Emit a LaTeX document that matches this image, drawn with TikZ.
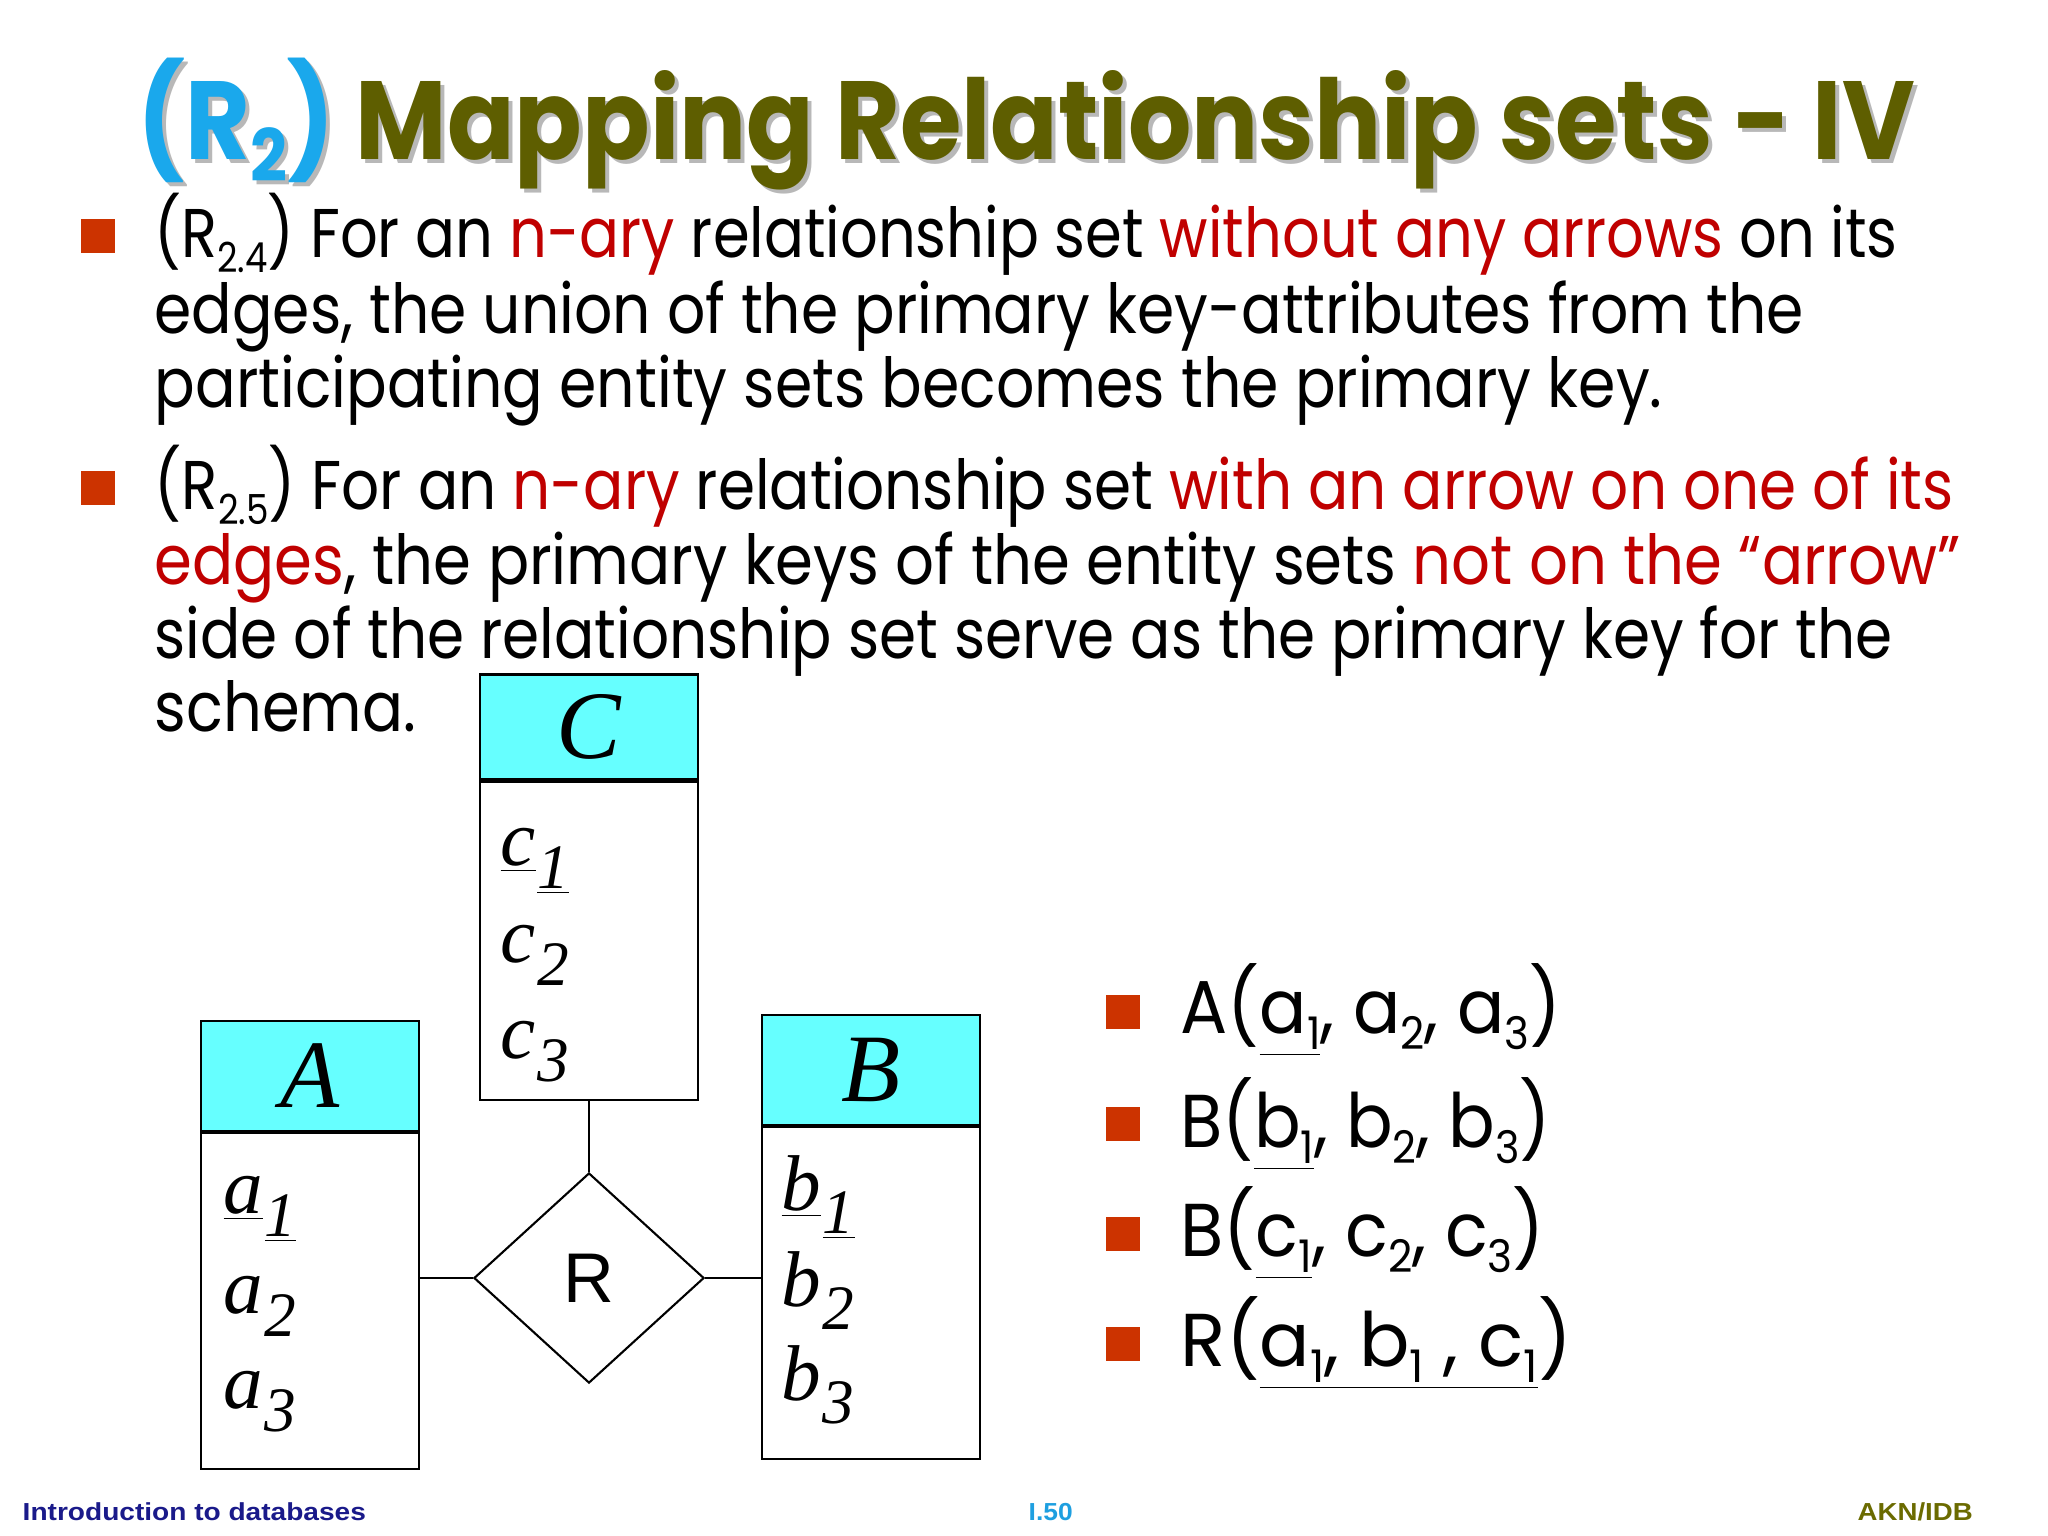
\documentclass[tikz,border=0pt]{standalone}
\usepackage{fontspec}
\usepackage{graphicx}
\setmainfont{Poppins}
\newfontfamily\serfont{Liberation Serif}
\newfontfamily\arialfont{Liberation Sans}
\usetikzlibrary{shapes.geometric}

\definecolor{keyred}{HTML}{C00000}
\definecolor{bulletred}{HTML}{CC3300}
\definecolor{titleolive}{HTML}{5E5E00}
\definecolor{titleblue}{HTML}{1AA8EC}
\definecolor{shadowgray}{HTML}{B8B8B8}
\definecolor{headcyan}{HTML}{66FFFF}
\definecolor{footnavy}{HTML}{1A1A8A}
\definecolor{footcyan}{HTML}{1E9FE0}
\definecolor{footolive}{HTML}{6B6B00}

\newcommand\fitw[2]{\resizebox{#1}{\height}{#2}}
\newcommand\lsub[1]{\raisebox{-0.22em}{\scalebox{0.6}{#1}}}
\newcommand\asub[1]{\hspace{0.02em}\raisebox{-0.3em}{\scalebox{0.8}{#1}}}
\newcommand\titleline[2]{{\color{#1}(R\raisebox{-0.2em}{\scalebox{0.65}{2}})} {\color{#2}Mapping Relationship sets - IV}}

\begin{document}
\begin{tikzpicture}[x=0.01cm,y=-0.01cm,
  titletext/.style={anchor=base west, inner sep=0, font=\bfseries\fontsize{31.6}{32}\selectfont},
  bodytext/.style={anchor=base west, inner sep=0, font=\fontsize{19.6}{21.3}\selectfont},
  listtext/.style={anchor=base west, inner sep=0, font=\fontsize{21.3}{23}\selectfont},
  bullet/.style={fill=bulletred, minimum size=0.34cm, inner sep=0},
  headbox/.style={draw, line width=0.6pt, fill=headcyan, minimum width=2.18cm, inner sep=0, font=\serfont\itshape\fontsize{27.5}{28}\selectfont},
  bodybox/.style={draw, line width=0.6pt, minimum width=2.18cm, anchor=north, inner sep=0},
  attr/.style={anchor=base west, inner sep=0, font=\serfont\itshape\fontsize{22.5}{24}\selectfont},
  rel/.style={diamond, draw, line width=0.6pt, minimum width=2.30cm, minimum height=2.10cm, inner sep=0, font=\arialfont\fontsize{20}{20}\selectfont},
  footer/.style={anchor=base west, inner sep=0, font=\arialfont\bfseries\fontsize{7}{8}\selectfont}]

\useasboundingbox[fill=white] (0,0) rectangle (2048,1536);

% title
\node[titletext] (titleshadow) at (141,163) {\fitw{17.76cm}{\titleline{shadowgray}{shadowgray}}};
\node[titletext] (title) at (137,159) {\fitw{17.76cm}{\titleline{titleblue}{titleolive}}};

% first rule
\node[bullet] (b1) at (98,236) {};
\node[bodytext] (l11) at (154,257) {\fitw{17.42cm}{(R\lsub{2.4}) For an {\color{keyred}n-ary} relationship set {\color{keyred}without any arrows} on its}};
\node[bodytext] (l12) at (154,333) {\fitw{16.48cm}{edges, the union of the primary key-attributes from the}};
\node[bodytext] (l13) at (154,407) {\fitw{15.07cm}{participating entity sets becomes the primary key.}};

% second rule
\node[bullet] (b2) at (98,488) {};
\node[bodytext] (l21) at (154,509) {\fitw{17.98cm}{(R\lsub{2.5}) For an {\color{keyred}n-ary} relationship set {\color{keyred}with an arrow on one of its}}};
\node[bodytext] (l22) at (154,584) {\fitw{18.05cm}{{\color{keyred}edges}, the primary keys of the entity sets {\color{keyred}not on the “arrow”}}};
\node[bodytext] (l23) at (154,658) {\fitw{17.37cm}{side of the relationship set serve as the primary key for the}};
\node[bodytext] (l24) at (154,731) {\fitw{2.61cm}{schema.}};

% E-R diagram
\node[headbox, minimum height=1.05cm] (Chead) at (589,727) {C};
\node[bodybox, minimum height=3.18cm] (Cbody) at (Chead.south) {};
\node[headbox, minimum height=1.10cm] (Ahead) at (310,1076) {A};
\node[bodybox, minimum height=3.36cm] (Abody) at (Ahead.south) {};
\node[headbox, minimum height=1.10cm] (Bhead) at (871,1070) {B};
\node[bodybox, minimum height=3.32cm] (Bbody) at (Bhead.south) {};
\node[rel] (R) at (589,1278) {R};

\node[attr] (c1) at (500,865) {\underline{c}\asub{\underline{1}}};
\node[attr] (c2) at (500,962) {c\asub{2}};
\node[attr] (c3) at (500,1058) {c\asub{3}};
\node[attr] (a1) at (223,1213) {\underline{a}\asub{\underline{1}}};
\node[attr] (a2) at (223,1313) {a\asub{2}};
\node[attr] (a3) at (223,1408) {a\asub{3}};
\node[attr] (bb1) at (781,1210) {\underline{b}\asub{\underline{1}}};
\node[attr] (bb2) at (781,1306) {b\asub{2}};
\node[attr] (bb3) at (781,1400) {b\asub{3}};

\draw[line width=0.6pt] (Cbody.south) -- (R.north);
\draw[line width=0.6pt] (R.west -| Abody.east) -- (R.west);
\draw[line width=0.6pt] (R.east) -- (R.east -| Bbody.west);

% schemas
\node[bullet] (s1) at (1123,1012) {};
\node[bullet] (s2) at (1123,1124) {};
\node[bullet] (s3) at (1123,1234) {};
\node[bullet] (s4) at (1123,1344) {};
\node[listtext] (A) at (1180,1033) {\fitw{3.80cm}{A(\underline{a\lsub{1}}, a\lsub{2}, a\lsub{3})}};
\node[listtext] (B) at (1180,1147) {\fitw{3.70cm}{B(\underline{b\lsub{1}}, b\lsub{2}, b\lsub{3})}};
\node[listtext] (Bc) at (1180,1256) {\fitw{3.64cm}{B(\underline{c\lsub{1}}, c\lsub{2}, c\lsub{3})}};
\node[listtext] (Rs) at (1180,1366) {\fitw{3.91cm}{R(\underline{a\lsub{1}, b\lsub{1} , c\lsub{1}})}};

% footer
\node[footer, text=footnavy] (course) at (22,1520) {\fitw{3.43cm}{Introduction to databases}};
\node[footer, text=footcyan] (page) at (1028,1520) {\fitw{0.44cm}{I.50}};
\node[footer, text=footolive] (tag) at (1857,1520) {\fitw{1.15cm}{AKN/IDB}};
\end{tikzpicture}
\end{document}
